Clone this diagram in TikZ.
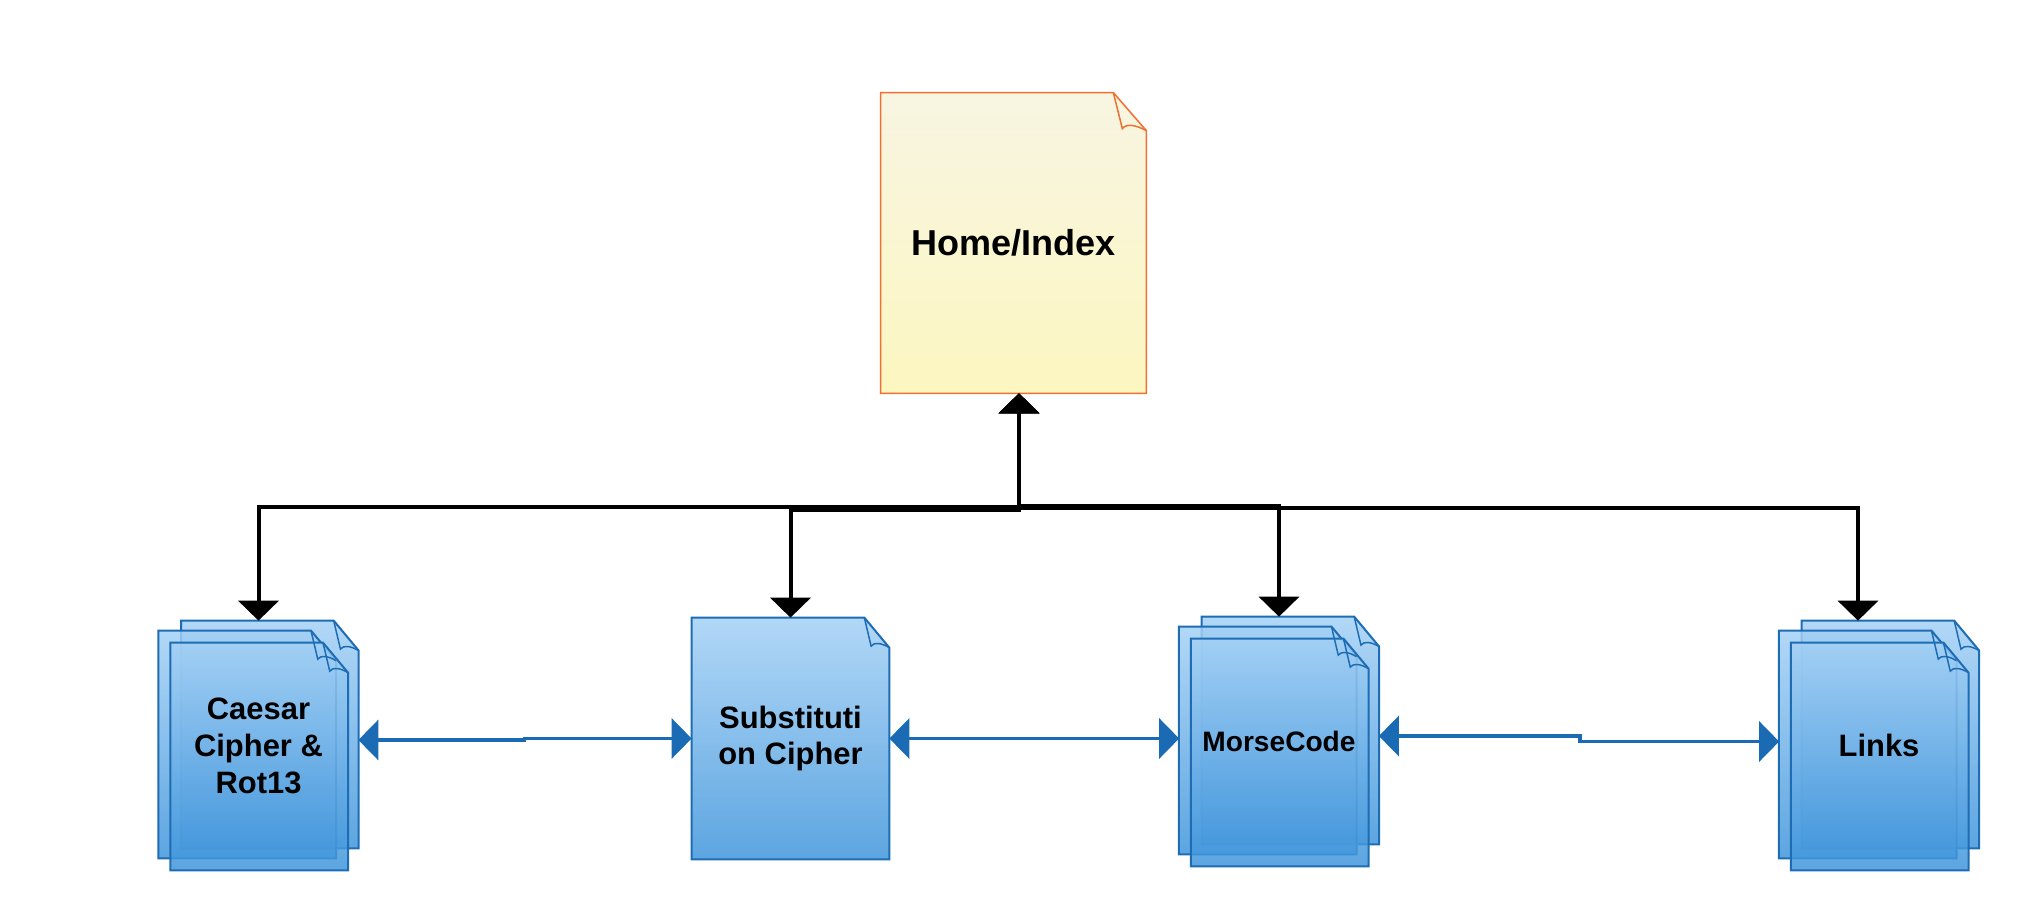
\documentclass[tikz,border=0pt]{standalone}
\usepackage{fontspec}
\setmainfont{Liberation Sans}
\usetikzlibrary{
	arrows.meta,backgrounds,positioning,calc
}
\definecolor{pagelight}{HTML}{A3D0F5}
\definecolor{pageblue}{HTML}{3D94DB}
\definecolor{pageline}{HTML}{1E6DB4}
\definecolor{linkblue}{HTML}{1A6BB3}
\definecolor{homeline}{HTML}{F07030}
\definecolor{hometop}{HTML}{F8F5E2}
\definecolor{homebottom}{HTML}{FCF6C0}
\tikzset{
	page/.style={
		rectangle, minimum width=3.54cm, minimum height=4.54cm, inner sep=0pt,
		align=center, font=\fontsize{17.6}{21}\selectfont\bfseries
	},
	%
	stack/.style={
		rectangle, minimum width=3.98cm, minimum height=4.98cm, inner sep=0pt,
		align=center, font=\fontsize{17.6}{21}\selectfont\bfseries
	},
	%
	bluepaper/.style={
		line width=0.04cm, draw=pageline, top color=pagelight, bottom color=pageblue,
		fill opacity=0.84
	},
	%
	homepaper/.style={
		line width=0.03cm, draw=homeline, top color=hometop, bottom color=homebottom
	},
	%
	flap/.style={
		line width=0.03cm, draw=pageline
	},
	%
	tree/.style={
		<->, line width=0.08cm, draw=black
	},
	%
	link/.style={
		<->, line width=0.07cm, draw=linkblue
	}
}
\begin{document}
\begin{tikzpicture}[>={Triangle[length=0.4cm,width=0.8cm]}]
    \useasboundingbox (0,0) rectangle (40.4,-18.28);
    \node(home)[page, minimum width=5.3cm, minimum height=6cm, font=\fontsize{20.5}{24}\selectfont\bfseries] at (20.27,-4.86){Home/Index};
    \node(caesar)[stack] at (5.17,-14.91){Caesar\\Cipher \&\\Rot13};
    \node(subst)[page, minimum width=3.94cm, minimum height=4.82cm] at (15.81,-14.77){Substituti\\on Cipher};
    \node(morse)[stack, font=\fontsize{16}{19}\selectfont\bfseries] at (25.58,-14.83){MorseCode};
    \node(links)[stack] at (37.58,-14.91){Links};
    % the pages of each stack
    \foreach \s in {caesar,morse,links}{
        \node(\s1)[page, anchor=north] at ([xshift=-1.77cm]\s.north east){};
        \node(\s2)[page, anchor=north] at ([xshift=1.77cm,yshift=-0.2cm]\s.north west){};
        \node(\s3)[page, anchor=south] at ([xshift=2.01cm]\s.south west){};
    }
    % paper with a folded corner, behind the texts
    \begin{scope}[on background layer]
    \path[homepaper] (home.north west) -- ($(home.north east)+(-0.66,0)$) -- ($(home.north east)+(0,-0.76)$) -- (home.south east) -- (home.south west) -- cycle;
    \foreach \pg in {subst,caesar1,caesar2,caesar3,morse1,morse2,morse3,links1,links2,links3}
        \path[bluepaper] (\pg.north west) -- ($(\pg.north east)+(-0.5,0)$) -- ($(\pg.north east)+(0,-0.6)$) -- (\pg.south east) -- (\pg.south west) -- cycle;
    \end{scope}
    % folded corners
    \foreach \pg in {caesar1,caesar2,caesar3,subst,morse1,morse2,morse3,links1,links2,links3}
        \draw[flap] ($(\pg.north east)+(-0.5,0)$) -- ++(0.135,-0.57) .. controls +(0.06,0.09) and +(-0.15,0.09) .. ($(\pg.north east)+(0,-0.6)$);
    \draw[flap, draw=homeline] ($(home.north east)+(-0.66,0)$) -- ++(0.18,-0.72) .. controls +(0.08,0.11) and +(-0.2,0.11) .. ($(home.north east)+(0,-0.76)$);
    % links from the home page
    \draw[tree] ([xshift=0.11cm]home.south) -- ++(0,-2.28) -| (caesar.north);
    \draw[tree] ([xshift=0.11cm]home.south) -- ++(0,-2.34) -| (subst.north);
    \draw[tree] ([xshift=0.11cm]home.south) -- ++(0,-2.26) -| (morse.north);
    \draw[tree] ([xshift=0.11cm]home.south) -- ++(0,-2.30) -| ([xshift=-0.42cm]links.north);
    % links between the pages
    \draw[link] ([yshift=0.11cm]caesar.east) -- ++(3.32,0) |- (subst.west);
    \draw[link] (subst.east) -- (subst.east -| morse.west);
    \draw[link] ([yshift=0.11cm]morse.east) -- ++(4.02,0) |- ([yshift=0.08cm]links.west);
\end{tikzpicture}
\end{document}
